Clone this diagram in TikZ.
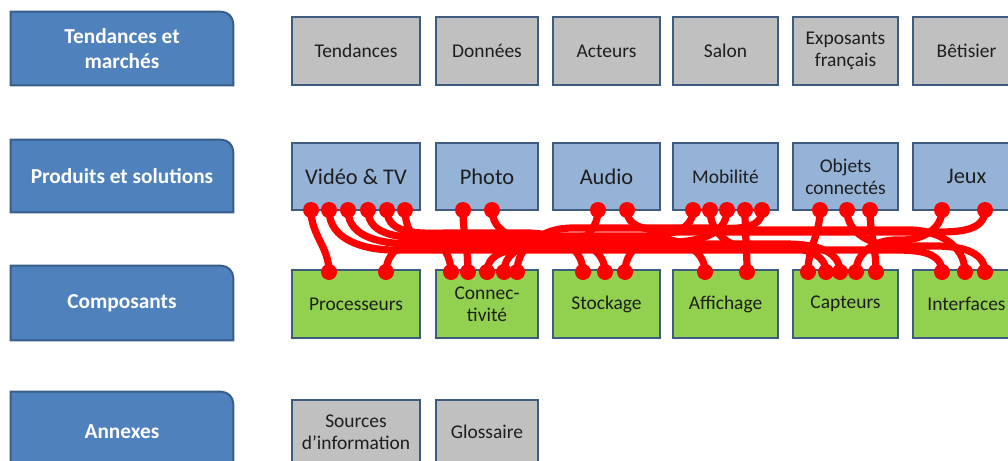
\documentclass[tikz,border=0pt]{standalone}
\usepackage{fontspec}
\setmainfont{Carlito}
\usetikzlibrary{calc,backgrounds}
\definecolor{lblfill}{HTML}{4F81BD}
\definecolor{lbldraw}{HTML}{385D8A}
\definecolor{boxdraw}{HTML}{3E5C80}
\definecolor{grayfill}{HTML}{C0C0C0}
\definecolor{prodfill}{HTML}{95B3D7}
\definecolor{compfill}{HTML}{92D050}
\definecolor{txt}{HTML}{1E1E1E}
\begin{document}
\begin{tikzpicture}[x=0.75pt,y=-0.75pt,
  lblnode/.style={minimum width=166.5pt, text=white, font=\fontsize{16}{18.75}\selectfont\bfseries, align=center, inner sep=0pt},
  lblshape/.style={fill=lblfill, draw=lbldraw, line width=1.5pt},
  box/.style={draw=boxdraw, line width=2.2pt, text=txt, align=center, inner sep=0pt, font=\fontsize{14.6}{16.5}\selectfont},
  gbox/.style={box, fill=grayfill},
  pbox/.style={box, fill=prodfill},
  cbox/.style={box, fill=compfill},
  big/.style={font=\fontsize{16.8}{19}\selectfont},
  link/.style={red, line width=5.4pt, line cap=round},
  wA/.style={minimum width=96pt}, wB/.style={minimum width=76.5pt},
  wC/.style={minimum width=80.25pt}, wD/.style={minimum width=78.75pt},
  wE/.style={minimum width=78.75pt}, wF/.style={minimum width=80.25pt},
]
\useasboundingbox (0,0) rectangle (1008,461);

% category labels
\node[lblnode, minimum height=54.75pt] (l1) at (122,48.5) {Tendances et\\marchés};
\node[lblnode, minimum height=54pt] (l2) at (122,176) {Produits et solutions};
\node[lblnode, minimum height=55.5pt] (l3) at (122,303) {Composants};
\node[lblnode, minimum height=60pt] (l4) at (122,432) {Annexes};
\begin{scope}[on background layer]
\foreach \n in {l1,l2,l3,l4}
  \draw[lblshape] (\n.south west) -- (\n.north west) -- ([xshift=-9pt]\n.north east)
    to[out=0,in=90] ([yshift=-9pt]\n.north east) -- (\n.south east) -- cycle;
\end{scope}

% row 1
\node[gbox, wA, minimum height=51pt] (t1) at (356,51) {Tendances};
\node[gbox, wB, minimum height=51pt] (t2) at (487,51) {Données};
\node[gbox, wC, minimum height=51pt] (t3) at (606.5,51) {Acteurs};
\node[gbox, wD, minimum height=51pt] (t4) at (725.5,51) {Salon};
\node[gbox, wE, minimum height=51pt] (t5) at (845.5,51) {Exposants\\français};
\node[gbox, wF, minimum height=51pt] (t6) at (966.5,51) {Bêtisier};

% row 2
\node[pbox, big, wA, minimum height=50.25pt] (p1) at (356,176.5) {Vidéo \& TV};
\node[pbox, big, wB, minimum height=50.25pt] (p2) at (487,176.5) {Photo};
\node[pbox, big, wC, minimum height=50.25pt] (p3) at (606.5,176.5) {Audio};
\node[pbox, wD, minimum height=50.25pt] (p4) at (725.5,176.5) {Mobilité};
\node[pbox, wE, minimum height=50.25pt] (p5) at (845.5,176.5) {Objets\\connectés};
\node[pbox, big, wF, minimum height=50.25pt] (p6) at (966.5,176.5) {Jeux};

% row 3
\node[cbox, wA, minimum height=51pt] (c1) at (356,304) {Processeurs};
\node[cbox, wB, minimum height=51pt] (c2) at (487,304) {Connec-\\tivité};
\node[cbox, wC, minimum height=51pt] (c3) at (606.5,304) {Stockage};
\node[cbox, wD, minimum height=51pt] (c4) at (725.5,304) {Affichage};
\node[cbox, wE, minimum height=51pt] (c5) at (845.5,304) {Capteurs};
\node[cbox, wF, minimum height=51pt] (c6) at (966.5,304) {Interfaces};

% row 4
\node[gbox, wA, minimum height=48pt] (a1) at (356,432) {Sources\\d’information};
\node[gbox, wB, minimum height=48pt] (a2) at (487,432) {Glossaire};

% dot coordinates (top)
\foreach \n/\x in {v1/311,v2/329,v3/348,v4/368,v5/387,v6/405,ph1/463,ph2/492,au1/598,au2/627,
  mo1/693,mo2/710,mo3/727,mo4/745,mo5/762,ob1/820,ob2/847,ob3/870,je1/942,je2/985}
  \coordinate (\n) at (\x,210);
% dot coordinates (bottom)
\foreach \n/\x in {pr1/329,pr2/386,cn1/451,cn2/468,cn3/487,cn4/504,cn5/517,st1/583,st2/605,st3/625,
  af1/705,af2/747,ca1/808,ca2/826,ca3/840,ca4/856,ca5/876,in1/942,in2/965,in3/985}
  \coordinate (\n) at (\x,272);

% straight-ish links
\draw[link] (v1) to[out=-90,in=90] (pr1);
\draw[link] (ph1) to[out=-90,in=90] (cn2);
\draw[link] (mo4) to[out=-90,in=90] (af2);
\draw[link] (ob1) to[out=-90,in=90] (ca1);
\draw[link] (ob3) to[out=-90,in=90] (ca5);

% rightward links
\draw[link] (v2) to[out=-90,in=180] ($(v2)+(65,40)$) -- ($(in1)+(-55,-22)$) to[out=0,in=90] (in1);
\draw[link] (v3) to[out=-90,in=180] ($(v3)+(65,34)$) -- ($(ca3)+(-55,-28)$) to[out=0,in=90] (ca3);
\draw[link] (v4) to[out=-90,in=180] ($(v4)+(65,28)$) -- ($(af1)+(-55,-34)$) to[out=0,in=90] (af1);
\draw[link] (v5) to[out=-90,in=180] ($(v5)+(65,23)$) -- ($(st1)+(-55,-39)$) to[out=0,in=90] (st1);
\draw[link] (v6) to[out=-90,in=180] ($(v6)+(22,32)$) -- ($(cn1)+(-22,-30)$) to[out=0,in=90] (cn1);
\draw[link] (ph2) to[out=-90,in=180] ($(ph2)+(40,30)$) -- ($(st2)+(-40,-32)$) to[out=0,in=90] (st2);
\draw[link] (au2) to[out=-90,in=180] ($(au2)+(55,20)$) -- ($(in2)+(-55,-42)$) to[out=0,in=90] (in2);
\draw[link] (mo2) to[out=-90,in=180] ($(mo2)+(40,38)$) -- ($(ca2)+(-40,-24)$) to[out=0,in=90] (ca2);
\draw[link] (ob2) to[out=-90,in=180] ($(ob2)+(50,36)$) -- ($(in3)+(-50,-26)$) to[out=0,in=90] (in3);

% leftward links
\draw[link] (au1) to[out=-90,in=0] ($(au1)+(-45,38)$) -- ($(cn3)+(45,-24)$) to[out=180,in=90] (cn3);
\draw[link] (mo1) to[out=-90,in=0] ($(mo1)+(-55,26)$) -- ($(pr2)+(55,-36)$) to[out=180,in=90] (pr2);
\draw[link] (mo3) to[out=-90,in=0] ($(mo3)+(-55,32)$) -- ($(cn4)+(55,-30)$) to[out=180,in=90] (cn4);
\draw[link] (mo5) to[out=-90,in=0] ($(mo5)+(-55,18)$) -- ($(cn5)+(55,-44)$) to[out=180,in=90] (cn5);
\draw[link] (je1) to[out=-90,in=0] ($(je1)+(-40,30)$) -- ($(ca4)+(40,-32)$) to[out=180,in=90] (ca4);
\draw[link] (je2) to[out=-90,in=0] ($(je2)+(-55,22)$) -- ($(st3)+(55,-40)$) to[out=180,in=90] (st3);

% dots
\foreach \n in {v1,v2,v3,v4,v5,v6,ph1,ph2,au1,au2,mo1,mo2,mo3,mo4,mo5,ob1,ob2,ob3,je1,je2,
  pr1,pr2,cn1,cn2,cn3,cn4,cn5,st1,st2,st3,af1,af2,ca1,ca2,ca3,ca4,ca5,in1,in2,in3}
  \fill[red] (\n) circle (6pt);
\end{tikzpicture}
\end{document}
